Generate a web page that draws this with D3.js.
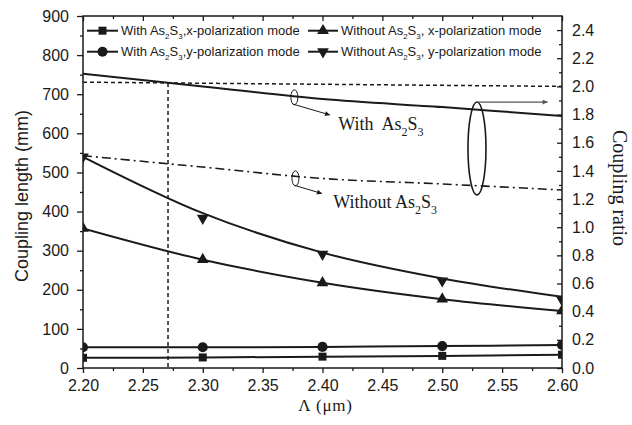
<!DOCTYPE html>
<html>
<head>
<meta charset="utf-8">
<script src="https://cdn.jsdelivr.net/npm/d3@7"></script>
<style>
  body { margin: 0; background: #fff; }
  svg { display: block; }
</style>
</head>
<body>
<div id="chart"></div>
<script>
// ---- data ----
const lambda = [2.20, 2.30, 2.40, 2.50, 2.60];

// coupling length (mm), left axis
const withX = [26, 27, 29, 31, 34];
const withY = [53, 53, 54, 56, 59];
const withoutX = [357, 277, 218, 176, 146];
const withoutY = [540, 383, 291, 223, 174];
const withoutYFit = [540, 396, 295, 229, 182];

// coupling ratio, right axis
const ratioWith = [2.09, 2.0, 1.91, 1.853, 1.79];
const ratioWithout = [1.508, 1.427, 1.346, 1.307, 1.264];
const ratioDotted = [2.03, 2.0]; // at lambda 2.2 and 2.6
const crossLambda = 2.271;

const lambdaTicks = d3.range(2.2, 2.6001, 0.05);
const lambdaMinor = d3.range(2.225, 2.6, 0.05);
const lengthTicks = d3.range(0, 901, 100);
const lengthMinor = d3.range(50, 900, 100);
const ratioTicks = d3.range(0, 2.41, 0.2);
const ratioMinor = d3.range(0.1, 2.5, 0.2);

const legendItems = [
  { label: 'With As_2S_3,x-polarization mode', symbol: d3.symbolSquare, size: 64, rot: 0 },
  { label: 'With As_2S_3,y-polarization mode', symbol: d3.symbolCircle, size: 80, rot: 0 },
  { label: 'Without As_2S_3, x-polarization mode', symbol: d3.symbolTriangle, size: 60, rot: 0 },
  { label: 'Without As_2S_3, y-polarization mode', symbol: d3.symbolTriangle, size: 60, rot: 180 },
];

// ---- setup ----
const width = 632;
const height = 425;
const margin = { top: 16, right: 70, bottom: 57, left: 83 };
const ink = '#1a1a1a';
const sans = '"Liberation Sans", Arial, sans-serif';
const serif = '"Liberation Serif", "Times New Roman", serif';

const svg = d3.select('#chart')
  .append('svg')
  .attr('width', width)
  .attr('height', height);

const x = d3.scaleLinear().domain([2.2, 2.6]).range([margin.left, width - margin.right]);
const yL = d3.scaleLinear().domain([0, 900]).range([height - margin.bottom, margin.top]);
const yR = d3.scaleLinear().domain([0, 2.5]).range([height - margin.bottom, margin.top]);

// rich text: "_2" becomes a subscript 2
function richText(sel, str, subSize, shift) {
  let down = false;
  str.split(/(_\d)/).filter((s) => s).forEach((s) => {
    if (s[0] === '_') {
      sel.append('tspan').attr('dy', shift).attr('font-size', subSize).text(s[1]);
      down = true;
    } else {
      sel.append('tspan').attr('dy', down ? -shift : 0).text(s);
      down = false;
    }
  });
}

svg.append('defs')
  .append('clipPath')
  .attr('id', 'plot-clip')
  .append('rect')
  .attr('x', margin.left)
  .attr('y', margin.top)
  .attr('width', width - margin.left - margin.right)
  .attr('height', height - margin.top - margin.bottom);

['arrow-black', 'arrow-grey'].forEach((id, i) => {
  svg.select('defs')
    .append('marker')
    .attr('id', id)
    .attr('viewBox', '0 -5 10 10')
    .attr('refX', 10)
    .attr('refY', 0)
    .attr('markerWidth', i ? 8 : 9)
    .attr('markerHeight', 5)
    .attr('markerUnits', 'userSpaceOnUse')
    .attr('orient', 'auto')
    .append('path')
    .attr('d', 'M0,-5L10,0L0,5Z')
    .attr('fill', i ? '#555' : ink);
});

// ---- axes ----
const bottom = height - margin.bottom;
const right = width - margin.right;

function styleAxis(g) {
  g.select('.domain').remove();
  g.selectAll('line').attr('stroke', ink).attr('stroke-width', 1.3);
  g.selectAll('text').attr('fill', ink).attr('font-family', sans).attr('font-size', 16);
}

svg.append('g')
  .attr('transform', `translate(0,${bottom})`)
  .call(d3.axisBottom(x).tickValues(lambdaTicks).tickFormat(d3.format('.2f'))
    .tickSize(5).tickPadding(7))
  .call(styleAxis);
svg.append('g')
  .attr('transform', `translate(0,${bottom})`)
  .call(d3.axisBottom(x).tickValues(lambdaMinor).tickFormat('').tickSize(3))
  .call(styleAxis);
svg.append('g')
  .attr('transform', `translate(0,${margin.top})`)
  .call(d3.axisTop(x).tickValues(lambdaTicks).tickFormat('').tickSize(-5))
  .call(styleAxis);
svg.append('g')
  .attr('transform', `translate(0,${margin.top})`)
  .call(d3.axisTop(x).tickValues(lambdaMinor).tickFormat('').tickSize(-3))
  .call(styleAxis);

svg.append('g')
  .attr('transform', `translate(${margin.left},0)`)
  .call(d3.axisLeft(yL).tickValues(lengthTicks).tickSize(6).tickPadding(8))
  .call(styleAxis);
svg.append('g')
  .attr('transform', `translate(${margin.left},0)`)
  .call(d3.axisLeft(yL).tickValues(lengthMinor).tickFormat('').tickSize(3))
  .call(styleAxis);

svg.append('g')
  .attr('transform', `translate(${right},0)`)
  .call(d3.axisRight(yR).tickValues(ratioTicks).tickFormat(d3.format('.1f'))
    .tickSize(-5).tickPadding(10))
  .call(styleAxis);
svg.append('g')
  .attr('transform', `translate(${right},0)`)
  .call(d3.axisRight(yR).tickValues(ratioMinor).tickFormat('').tickSize(-3))
  .call(styleAxis);

svg.append('rect')
  .attr('x', margin.left)
  .attr('y', margin.top)
  .attr('width', right - margin.left)
  .attr('height', bottom - margin.top)
  .attr('fill', 'none')
  .attr('stroke', ink)
  .attr('stroke-width', 1.5);

// axis titles
svg.append('text')
  .attr('transform', `translate(28,196) rotate(-90)`)
  .attr('text-anchor', 'middle')
  .attr('font-family', sans)
  .attr('font-size', 18)
  .attr('fill', ink)
  .text('Coupling length (mm)');

svg.append('text')
  .attr('transform', `translate(613,188) rotate(90)`)
  .attr('text-anchor', 'middle')
  .attr('font-family', serif)
  .attr('font-size', 20)
  .attr('fill', ink)
  .text('Coupling ratio');

svg.append('text')
  .attr('x', (margin.left + right) / 2 + 3)
  .attr('y', 411)
  .attr('text-anchor', 'middle')
  .attr('font-family', serif)
  .attr('font-size', 17)
  .attr('letter-spacing', 0.8)
  .attr('fill', ink)
  .text('\u039B (\u03BCm)');

// ---- plot ----
const plot = svg.append('g').attr('clip-path', 'url(#plot-clip)');

const lineL = d3.line().x((d) => x(d[0])).y((d) => yL(d[1])).curve(d3.curveCatmullRom);
const lineR = d3.line().x((d) => x(d[0])).y((d) => yR(d[1])).curve(d3.curveCatmullRom);
const zip = (vals) => lambda.map((l, i) => [l, vals[i]]);

// coupling ratio lines
plot.append('path')
  .attr('d', lineR(zip(ratioWith)))
  .attr('fill', 'none')
  .attr('stroke', ink)
  .attr('stroke-width', 2);

plot.append('path')
  .attr('d', lineR(zip(ratioWithout)))
  .attr('fill', 'none')
  .attr('stroke', ink)
  .attr('stroke-width', 1.6)
  .attr('stroke-dasharray', '9,4,2,4');

plot.append('path')
  .attr('d', lineR([[2.2, ratioDotted[0]], [2.6, ratioDotted[1]]]))
  .attr('fill', 'none')
  .attr('stroke', ink)
  .attr('stroke-width', 1.5)
  .attr('stroke-dasharray', '4,3');

const crossRatio = ratioDotted[0] + (ratioDotted[1] - ratioDotted[0]) * (crossLambda - 2.2) / 0.4;
plot.append('line')
  .attr('x1', x(crossLambda))
  .attr('x2', x(crossLambda))
  .attr('y1', yR(crossRatio))
  .attr('y2', yR(0))
  .attr('stroke', ink)
  .attr('stroke-width', 1.5)
  .attr('stroke-dasharray', '4,3');

// coupling length series
const series = [
  { vals: withX, fit: withX, item: legendItems[0] },
  { vals: withY, fit: withY, item: legendItems[1] },
  { vals: withoutX, fit: withoutX, item: legendItems[2] },
  { vals: withoutY, fit: withoutYFit, item: legendItems[3] },
];

series.forEach((s) => {
  plot.append('path')
    .attr('d', lineL(zip(s.fit)))
    .attr('fill', 'none')
    .attr('stroke', ink)
    .attr('stroke-width', 2);
  plot.selectAll(null)
    .data(zip(s.vals))
    .join('path')
    .attr('transform', (d) => `translate(${x(d[0])},${yL(d[1])}) rotate(${s.item.rot})`)
    .attr('d', d3.symbol(s.item.symbol, s.item.size))
    .attr('fill', ink);
});

// ---- annotations (positioned in data units) ----
function smallEllipse(lam, r, lamTo, rTo) {
  plot.append('ellipse')
    .attr('cx', x(lam))
    .attr('cy', yR(r))
    .attr('rx', 3.5)
    .attr('ry', 7.5)
    .attr('fill', 'none')
    .attr('stroke', ink)
    .attr('stroke-width', 1);
  plot.append('line')
    .attr('x1', x(lam) - 1)
    .attr('y1', yR(r) + 7)
    .attr('x2', x(lamTo))
    .attr('y2', yR(rTo))
    .attr('stroke', ink)
    .attr('stroke-width', 1)
    .attr('marker-end', 'url(#arrow-black)');
}
smallEllipse(2.3765, 1.923, 2.4063, 1.797);
smallEllipse(2.3774, 1.347, 2.3996, 1.239);

const annText = [
  { lam: 2.4132, r: 1.690, label: 'With  As_2S_3' },
  { lam: 2.4090, r: 1.134, label: 'Without As_2S_3' },
];
annText.forEach((a) => {
  const t = svg.append('text')
    .attr('x', x(a.lam))
    .attr('y', yR(a.r))
    .attr('font-family', serif)
    .attr('font-size', 18)
    .attr('fill', ink)
    .style('white-space', 'pre');
  richText(t, a.label, 12, 6);
});

// big ellipse and arrow to the right axis
const bigLam = 2.529;
plot.append('ellipse')
  .attr('cx', x(bigLam))
  .attr('cy', yR(1.559))
  .attr('rx', 9)
  .attr('ry', yR(1.559) - yR(1.889))
  .attr('fill', 'none')
  .attr('stroke', ink)
  .attr('stroke-width', 1.6);
plot.append('line')
  .attr('x1', x(bigLam))
  .attr('y1', yR(1.889))
  .attr('x2', x(2.588))
  .attr('y2', yR(1.889))
  .attr('stroke', '#555')
  .attr('stroke-width', 1.3)
  .attr('marker-end', 'url(#arrow-grey)');

// ---- legend ----
const legendPos = [
  { x1: 87, x2: 118, row: 30.7 },
  { x1: 87, x2: 118, row: 51.7 },
  { x1: 308, x2: 338, row: 30.7 },
  { x1: 308, x2: 338, row: 51.7 },
];
const legend = svg.append('g').attr('class', 'legend');
legendItems.forEach((item, i) => {
  const p = legendPos[i];
  const g = legend.append('g');
  g.append('line')
    .attr('x1', p.x1).attr('x2', p.x2)
    .attr('y1', p.row).attr('y2', p.row)
    .attr('stroke', ink)
    .attr('stroke-width', 2);
  g.append('path')
    .attr('transform', `translate(${(p.x1 + p.x2) / 2},${p.row}) rotate(${item.rot})`)
    .attr('d', d3.symbol(item.symbol, item.size))
    .attr('fill', ink);
  const t = g.append('text')
    .attr('x', p.x2 + 3)
    .attr('y', p.row + 4.5)
    .attr('font-family', sans)
    .attr('font-size', 13)
    .attr('fill', ink);
  richText(t, item.label, 8, 3.5);
});
</script>
</body>
</html>
